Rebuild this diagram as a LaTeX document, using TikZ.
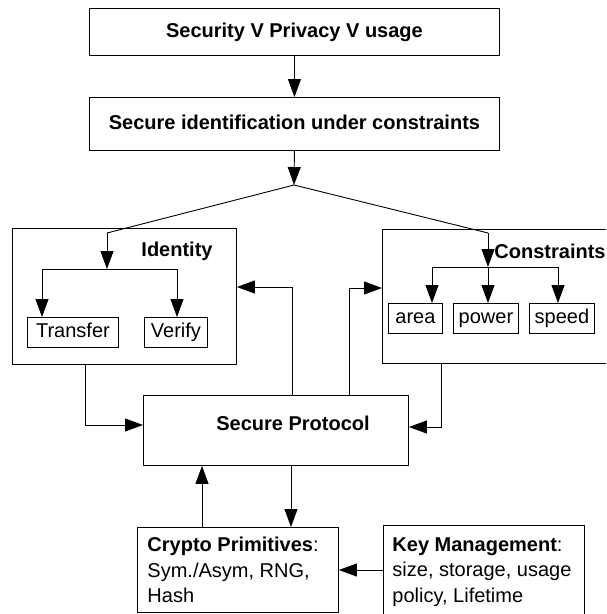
\documentclass[tikz,border=0pt]{standalone}
\usepackage{fontspec}
\setmainfont{Liberation Sans}
\usetikzlibrary{arrows.meta,calc}
\begin{document}
\begin{tikzpicture}[x=1pt,y=-1pt,
  font=\fontsize{20}{24}\selectfont,
  line width=0.9pt,
  box/.style={draw, line width=0.9pt, inner sep=0pt, anchor=north west, text height=14.5pt, text depth=4pt},
  lbl/.style={inner sep=0pt, font=\fontsize{20}{24}\selectfont\bfseries},
  multi/.style={inner sep=0pt, anchor=north west, align=left, font=\fontsize{20}{25.5}\selectfont},
  arr/.style={-{Triangle[length=18pt,width=13pt]}}]
\clip (0,0) rectangle (606,614);
\fill[white] (0,0) rectangle (606,614);
% boxes
\node[box, minimum width=410pt, minimum height=47pt, font=\fontsize{20}{24}\selectfont\bfseries] (top) at (89,8) {Security V Privacy V usage};
\node[box, minimum width=410pt, minimum height=53pt, font=\fontsize{20}{24}\selectfont\bfseries] (sec) at (89,97) {Secure identification under constraints};
\node[box, minimum width=224pt, minimum height=136pt] (ident) at (12,228) {};
\node[box, minimum width=91pt, minimum height=30pt] (trans) at (27,317) {Transfer};
\node[box, minimum width=63pt, minimum height=30pt] (verify) at (144,317) {Verify};
\node[box, minimum width=240pt, minimum height=134pt] (cons) at (382,229) {};
\node[box, minimum width=54pt, minimum height=30pt] (area) at (388,303) {area};
\node[box, minimum width=65pt, minimum height=30pt] (power) at (453,303) {power};
\node[box, minimum width=65pt, minimum height=30pt] (speed) at (529,303) {speed};
\node[box, minimum width=265pt, minimum height=70pt] (sp) at (143,395) {};
\node[box, minimum width=201pt, minimum height=85pt] (crypto) at (137,527) {};
\node[box, minimum width=201pt, minimum height=95pt] (key) at (383,525) {};
% labels
\node[lbl] (identl) at (177,251) {Identity};
\node[lbl, anchor=west] (consl) at (494,251) {Constraints};
\node[lbl] (spl) at (293,423) {Secure Protocol};
\node[multi] (cryptol) at (147,537) {\textbf{Crypto Primitives}:\\Sym./Asym, RNG,\\Hash};
\node[multi] (keyl) at (392,537) {\textbf{Key Management}:\\size, storage, usage\\policy, Lifetime};
% coordinates
\coordinate (split) at (294,185);
\coordinate (iin) at (107,233);
\coordinate (ij) at (107,269);
\coordinate (il) at (42,269);
\coordinate (ir) at (177,269);
\coordinate (cin) at (488,233);
\coordinate (cj) at (488,267);
\coordinate (cl) at (432,267);
\coordinate (cr) at (558,267);
% connectors
\draw[arr] (top.south) -- (sec.north);
\draw[arr] (sec.south) -- (split);
\draw (iin) -- (split) -- (cin);
\draw[arr] (iin) -- (ij);
\draw (il) -- (ir);
\draw[arr] (il) -- (il |- trans.north);
\draw[arr] (ir) -- (ir |- verify.north);
\draw[arr] (cin) -- (cj);
\draw (cl) -- (cr);
\draw[arr] (cl) -- (cl |- area.north);
\draw[arr] (cj) -- (cj |- power.north);
\draw[arr] (cr) -- (cr |- speed.north);
\draw[arr] (85,0 |- ident.south) |- (sp.west |- 0,425);
\draw[arr] (292,0 |- sp.north) |- (ident.east |- 0,287);
\draw[arr] (349,0 |- sp.north) |- (cons.west |- 0,288);
\draw[arr] (441,0 |- cons.south) |- (sp.east |- 0,427);
\draw[arr] (202,0 |- crypto.north) -- (202,0 |- sp.south);
\draw[arr] (291,0 |- sp.south) -- (291,0 |- crypto.north);
\draw[arr] (key.west |- 0,570) -- (crypto.east |- 0,570);
\end{tikzpicture}
\end{document}
